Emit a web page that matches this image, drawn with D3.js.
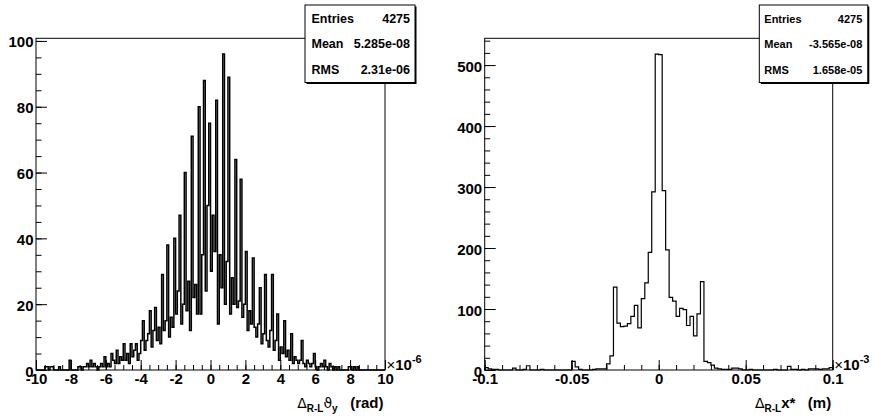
<!DOCTYPE html>
<html><head><meta charset="utf-8">
<script src="https://cdn.jsdelivr.net/npm/d3@7"></script>
<style>
html,body{margin:0;padding:0;background:#fff;}
svg{display:block;}
text{font-family:"Liberation Sans",Arial,Helvetica,sans-serif;font-weight:bold;fill:#000;}
</style></head><body>
<svg id="c" width="874" height="419"></svg>
<script>
// ---------- data: left histogram (Delta_{R-L} theta_y, units 1e-6 rad), 200 bins ----------
const thetaRange = [-10, 10];
const thetaCounts = [
  0,0,0,0,0,1,1,0,1,1, 0,0,0,1,0,0,0,0,0,3,
  0,0,0,0,1,1,0,1,1,2, 1,3,1,2,1,0,1,2,1,4,
  1,2,1,5,3,2,6,2,4,3, 8,3,5,2,8,4,6,8,3,5,
  9,15,6,9,11,18,7,12,19,9, 13,8,29,12,15,38,10,16,13,40,
  17,24,47,14,20,60,18,27,12,71, 22,26,17,80,17,35,88,24,50,75,
  30,47,36,82,14,35,25,96,20,33, 89,17,28,20,64,19,21,58,16,20,
  36,12,18,14,34,13,10,14,25,8, 11,29,9,7,12,29,6,9,17,3,
  7,5,15,4,6,3,11,2,4,3, 2,3,9,2,1,3,2,1,2,5,
  1,0,1,2,1,3,1,0,2,1, 0,1,0,1,0,0,0,0,0,1,
  1,0,1,0,1,0,0,0,0,0, 0,0,0,0,0,0,0,0,0,0
];
const thetaXTicks = [-10,-8,-6,-4,-2,0,2,4,6,8,10];
const thetaYTicks = [0,20,40,60,80,100];
const thetaStats = [["Entries","4275"],["Mean","5.285e-08"],["RMS","2.31e-06"]];

// ---------- data: right histogram (Delta_{R-L} x*, units 1e-3 m), 100 bins ----------
const xstarRange = [-0.1, 0.1];
const xstarCounts = [
  4,2,1,1,0,0,0,0,3,0, 0,1,7,0,0,0,1,0,0,0,
  0,0,0,0,0,14,5,1,0,0, 0,1,2,2,2,10,23,136,77,71,
  72,76,88,106,69,117,143,193,292,518, 517,294,197,119,113,88,101,99,73,88,
  56,92,145,14,12,8,3,2,1,1, 1,3,3,2,0,0,1,0,0,0,
  0,0,0,1,0,0,0,6,1,1, 0,1,0,2,2,2,1,2,2,4
];
const xstarXTicks = [-0.1,-0.05,0,0.05,0.1];
const xstarYTicks = [0,100,200,300,400,500];
const xstarStats = [["Entries","4275"],["Mean","-3.565e-08"],["RMS","1.658e-05"]];

const svg = d3.select("#c");

function drawPanel(cfg){
  const g = svg.append("g");
  const x = d3.scaleLinear().domain(cfg.range).range([cfg.x0, cfg.x1]);
  const y = d3.scaleLinear().domain([0, d3.max(cfg.counts)*1.05]).range([cfg.y1, cfg.y0]);

  // histogram outline
  const n = cfg.counts.length, w = (cfg.range[1]-cfg.range[0])/n;
  const pts = [[cfg.range[0],0]];
  cfg.counts.forEach((c,i)=>{ pts.push([cfg.range[0]+i*w,c]); pts.push([cfg.range[0]+(i+1)*w,c]); });
  pts.push([cfg.range[1],0]);
  g.append("path").attr("d", d3.line().x(d=>x(d[0])).y(d=>y(d[1]))(pts))
    .attr("fill","none").attr("stroke","#000").attr("stroke-width",cfg.lw);

  // frame
  g.append("rect").attr("x",cfg.x0).attr("y",cfg.y0).attr("width",cfg.x1-cfg.x0).attr("height",cfg.y1-cfg.y0)
    .attr("fill","none").attr("stroke","#000").attr("stroke-width",1);

  // minor ticks
  const minorX = d3.range(cfg.range[0], cfg.range[1]+cfg.minorX/2, cfg.minorX);
  const ymax = y.domain()[1];
  const minorY = d3.range(0, ymax, cfg.minorY);
  g.append("g").attr("transform",`translate(0,${cfg.y1})`)
    .call(d3.axisBottom(x).tickValues(minorX).tickSizeInner(-5).tickSizeOuter(0).tickFormat(""))
    .call(s=>s.select(".domain").remove());
  g.append("g").attr("transform",`translate(${cfg.x0},0)`)
    .call(d3.axisLeft(y).tickValues(minorY).tickSizeInner(-5.5).tickSizeOuter(0).tickFormat(""))
    .call(s=>s.select(".domain").remove());

  // major ticks + labels
  const gx = g.append("g").attr("transform",`translate(0,${cfg.y1})`)
    .call(d3.axisBottom(x).tickValues(cfg.xTicks).tickSizeInner(-10).tickSizeOuter(0).tickPadding(3).tickFormat(d=>String(d)))
    .call(s=>s.select(".domain").remove());
  gx.selectAll("text").style("font-size","15px");
  const gy = g.append("g").attr("transform",`translate(${cfg.x0},0)`)
    .call(d3.axisLeft(y).tickValues(cfg.yTicks).tickSizeInner(-11).tickSizeOuter(0).tickPadding(2.5).tickFormat(d=>String(d)))
    .call(s=>s.select(".domain").remove());
  gy.selectAll("text").style("font-size","15px").attr("dy","0.4em");
  g.selectAll(".tick line").attr("stroke","#000");

  // exponent
  const ex = g.append("text").attr("x",cfg.x1+1.5).attr("y",cfg.y1).style("font-size","15px");
  ex.append("tspan").text("\u00d7").style("font-weight","normal");
  ex.append("tspan").text("10");
  ex.append("tspan").text(cfg.exponent).style("font-size","11px").attr("dy",-7);

  // axis title
  const t = g.append("text").attr("x",cfg.x1-1.5).attr("y",408).attr("text-anchor","end")
    .style("font-size","15px").attr("xml:space","preserve").style("white-space","pre");
  let shift = 0;
  cfg.title.forEach(p=>{
    const target = p.sub ? 3.5 : 0;
    const ts = t.append("tspan").text(p.t).attr("dy", target - shift);
    shift = target;
    if (p.sub) ts.style("font-size","10px");
    if (p.sym) ts.style("font-weight","normal").style("font-family","'DejaVu Sans','Liberation Sans',sans-serif").style("font-size","14px");
  });

  // stats box
  const sb = cfg.stat;
  g.append("rect").attr("x",sb.x+1.5).attr("y",sb.y+1.5).attr("width",sb.w).attr("height",sb.h).attr("fill","#000");
  g.append("rect").attr("x",sb.x).attr("y",sb.y).attr("width",sb.w).attr("height",sb.h)
    .attr("fill","#fff").attr("stroke","#000").attr("stroke-width",1);
  cfg.stats.forEach((r,i)=>{
    const yy = sb.y + 17.7 + i*25.7;
    g.append("text").attr("x",sb.x+sb.pad).attr("y",yy).style("font-size",sb.fs+"px").text(r[0]);
    g.append("text").attr("x",sb.x+sb.w-sb.padR).attr("y",yy).attr("text-anchor","end").style("font-size",sb.fs+"px").text(r[1]);
  });
}

drawPanel({
  range: thetaRange, counts: thetaCounts, lw: 1.5,
  x0: 36, x1: 385, y0: 38.3, y1: 370,
  xTicks: thetaXTicks, yTicks: thetaYTicks, minorX: 0.5, minorY: 5,
  exponent: "-6",
  title: [{t:"\u0394",sym:true},{t:"R-L",sub:true},{t:"\u03d1",sym:true},{t:"y",sub:true},{t:"   (rad)"}],
  stats: thetaStats,
  stat: {x:305, y:5, w:110, h:77.5, pad:6.5, padR:5, fs:12.5}
});
drawPanel({
  range: xstarRange, counts: xstarCounts, lw: 1.2,
  x0: 484.7, x1: 832.7, y0: 38.3, y1: 370,
  xTicks: xstarXTicks, yTicks: xstarYTicks, minorX: 0.01, minorY: 20,
  exponent: "-3",
  title: [{t:"\u0394",sym:true},{t:"R-L",sub:true},{t:"x*"},{t:"   (m)"}],
  stats: xstarStats,
  stat: {x:759.3, y:5, w:108.5, h:77.5, pad:5, padR:5.5, fs:11}
});
</script>
</body></html>
